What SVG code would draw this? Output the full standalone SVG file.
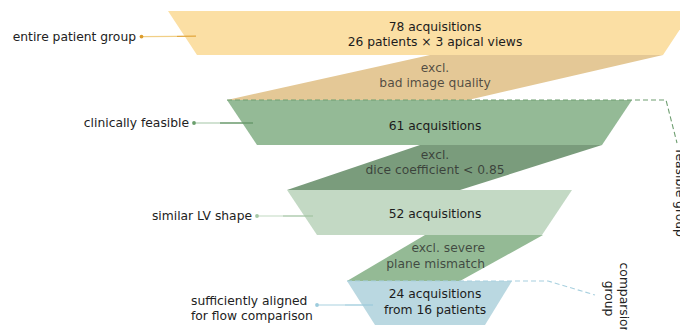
<svg xmlns="http://www.w3.org/2000/svg" width="680" height="330" viewBox="0 0 680 330">
<style>
text{font-family:"DejaVu Sans","Liberation Sans",sans-serif;font-size:12.3px}
.box{fill:#1c1c1c;text-anchor:middle}
.ex{fill:#2a2a2a;fill-opacity:0.78;text-anchor:middle}
.lab{fill:#222;text-anchor:end}
.dash{fill:none;stroke-width:1.1;stroke-dasharray:5,3}
</style>
<rect width="680" height="330" fill="#ffffff"/>
<g id="stage-entire">
<polygon points="168,11 692,11 663,55 197,55" fill="#fbdfa4"/>
<text class="box" x="435" y="30.5">78 acquisitions</text>
<text class="box" x="435" y="46">26 patients × 3 apical views</text>
</g>
<g id="excl-quality">
<polygon points="430,55 663,55 468,100 227,100" fill="#e4c896"/>
<text class="ex" x="435" y="71.5">excl.</text>
<text class="ex" x="435" y="86.8">bad image quality</text>
</g>
<g id="stage-feasible">
<polygon points="227,100 632,100 602,145 257,145" fill="#94ba96"/>
<text class="box" x="435" y="130">61 acquisitions</text>
</g>
<g id="excl-dice">
<polygon points="420,145 602,145 460,190 287,190" fill="#7a9c7c"/>
<text class="ex" x="435" y="159">excl.</text>
<text class="ex" x="435" y="174.3">dice coefficient &lt; 0.85</text>
</g>
<g id="stage-shape">
<polygon points="287,190 572,190 542,235 317,235" fill="#c3d9c4"/>
<text class="box" x="435" y="218">52 acquisitions</text>
</g>
<g id="excl-plane">
<polygon points="425,235 543,235 460,281 347,281" fill="#94ba95"/>
<text class="ex" x="485" y="252.3" style="text-anchor:end">excl. severe</text>
<text class="ex" x="485" y="267.6" style="text-anchor:end">plane mismatch</text>
</g>
<g id="stage-aligned">
<polygon points="347,281 512,281 485,325 375,325" fill="#bad8e1"/>
<text class="box" x="435" y="298">24 acquisitions</text>
<text class="box" x="435" y="313.7">from 16 patients</text>
</g>
<g id="label-entire">
<text class="lab" x="136" y="40.7">entire patient group</text>
</g>
<g id="label-feasible">
<text class="lab" x="189" y="127">clinically feasible</text>
</g>
<g id="label-shape">
<text class="lab" x="252" y="220">similar LV shape</text>
</g>
<g id="label-aligned">
<text fill="#222" x="191" y="305">sufficiently aligned</text>
<text fill="#222" x="191" y="320.3">for flow comparison</text>
</g>
<g id="group-feasible">
<text fill="#222" text-anchor="middle" transform="translate(676,193) rotate(90)">feasible group</text>
</g>
<g id="group-comparison">
<text fill="#222" text-anchor="middle" transform="translate(620,298.5) rotate(90)"><tspan x="0" y="0">comparsion</tspan><tspan x="0" y="15.5">group</tspan></text>
</g>
<g id="connectors">
<line x1="141.5" y1="36.6" x2="177" y2="36.4" stroke="#f1cf86" stroke-width="1.3"/>
<line x1="177" y1="36.4" x2="196" y2="36.2" stroke="#e2a73e" stroke-width="1.3"/>
<circle cx="141.5" cy="36.6" r="1.9" fill="#dc9c2c"/>
<line x1="194" y1="123" x2="220" y2="123" stroke="#b9d3ba" stroke-width="1.3"/>
<line x1="220" y1="123" x2="253" y2="123" stroke="#6a9a6c" stroke-width="1.3"/>
<circle cx="194" cy="123" r="1.9" fill="#6a9e6c"/>
<line x1="257" y1="216" x2="283" y2="216" stroke="#cfe2cf" stroke-width="1.3"/>
<line x1="283" y1="216" x2="313" y2="216" stroke="#a4c4a5" stroke-width="1.3"/>
<circle cx="257" cy="216" r="1.9" fill="#a3c6a4"/>
<line x1="317" y1="305" x2="345" y2="305" stroke="#bddbe6" stroke-width="1.3"/>
<line x1="345" y1="305" x2="373" y2="305" stroke="#9ccbdb" stroke-width="1.3"/>
<circle cx="317" cy="305" r="1.9" fill="#9ccbdc"/>
<path class="dash" d="M227,100 H666 L677,143" stroke="#6e9e70"/>
<path class="dash" d="M347,281 H548 L595,295" stroke="#a8d0df"/>
</g>
</svg>
